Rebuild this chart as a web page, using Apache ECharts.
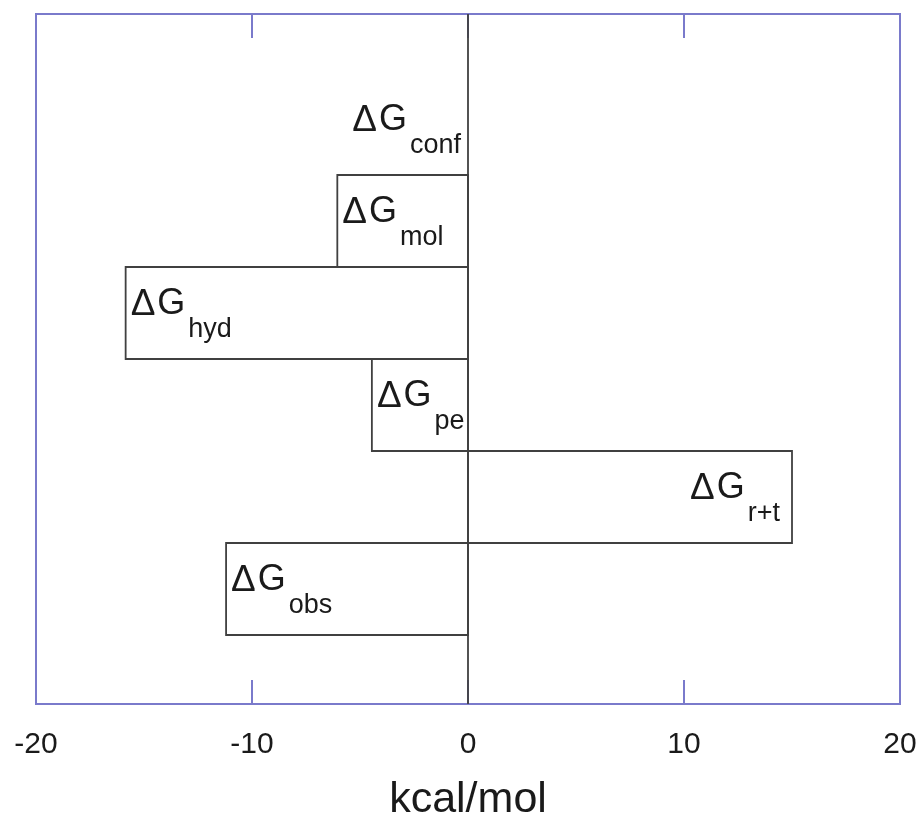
<!DOCTYPE html>
<html>
<head>
<meta charset="utf-8">
<script src="https://cdn.jsdelivr.net/npm/echarts@6/dist/echarts.min.js"></script>
<style>html,body{margin:0;padding:0;background:#fff;}#c{width:919px;height:818px;}</style>
</head>
<body>
<div id="c"></div>
<script>
const categories = ['conf', 'mol', 'hyd', 'pe', 'r+t', 'obs'];
const values = [0, -6.05, -15.85, -4.45, 15.0, -11.2];
const xTicks = [-20, -10, 0, 10, 20];
const xTitle = 'kcal/mol';

const FONT = '"Liberation Sans", Arial, sans-serif';
const BLUE = '#7a7acb';
const INK = '#1a1a1a';
const chart = echarts.init(document.getElementById('c'), null, {renderer: 'canvas'});

function renderItem(params, api) {
  const v = api.value(0), idx = api.value(1);
  const name = categories[params.dataIndex];
  const zero = api.coord([0, idx]);
  const end = api.coord([v, idx]);
  const h = api.size([0, 1])[1];
  const top = zero[1] - h / 2;
  const children = [];
  if (v !== 0) {
    children.push({
      type: 'rect',
      shape: {x: Math.min(zero[0], end[0]), y: top, width: Math.abs(end[0] - zero[0]), height: h},
      style: {fill: '#fff', stroke: '#404040', lineWidth: 1.8}
    });
  }
  let x, align;
  if (v > 0) { x = end[0] - 12; align = 'right'; }
  else if (v < 0) { x = end[0] + 5; align = 'left'; }
  else { x = zero[0] - 7; align = 'right'; }
  children.push({
    type: 'text',
    x: x, y: top + 19.5,
    z2: 10,
    style: {
      text: '{d|Δ}{a|G}{b|' + name + '}',
      align: align, verticalAlign: 'top',
      fill: INK,
      rich: {
        d: {fontSize: 37, lineHeight: 36, fontFamily: FONT, fill: INK, color: INK, verticalAlign: 'top', padding: [0, 2, 0, 0]},
        a: {fontSize: 36, lineHeight: 36, fontFamily: FONT, fill: INK, color: INK, verticalAlign: 'top'},
        b: {fontSize: 27, lineHeight: 27, fontFamily: FONT, fill: INK, color: INK, verticalAlign: 'top', padding: [29.5, 0, 0, 3]}
      }
    }
  });
  return {type: 'group', children: children};
}

const xMin = xTicks[0], xMax = xTicks[xTicks.length - 1], xInt = xTicks[1] - xTicks[0];

chart.setOption({
  animation: false,
  backgroundColor: '#fff',
  grid: {left: 36, right: 19, top: 14, bottom: 114, outerBoundsMode: 'none', containLabel: false,
         show: true, borderColor: BLUE, borderWidth: 2, backgroundColor: 'transparent'},
  xAxis: [{
    type: 'value', position: 'bottom', min: xMin, max: xMax, interval: xInt,
    name: xTitle, nameLocation: 'middle', nameGap: 75,
    nameTextStyle: {fontSize: 43, fontFamily: FONT, color: INK},
    axisLine: {show: true, onZero: false, lineStyle: {color: BLUE, width: 2}},
    axisTick: {show: true, inside: true, length: 24, lineStyle: {color: BLUE, width: 2}},
    axisLabel: {show: true, margin: 26, fontSize: 30, fontFamily: FONT, color: INK},
    splitLine: {show: false}
  }, {
    type: 'value', position: 'top', min: xMin, max: xMax, interval: xInt,
    axisLine: {show: true, onZero: false, lineStyle: {color: BLUE, width: 2}},
    axisTick: {show: true, inside: true, length: 24, lineStyle: {color: BLUE, width: 2}},
    axisLabel: {show: false},
    splitLine: {show: false}
  }],
  yAxis: {
    type: 'value', min: -1.25, max: 6.25, inverse: true, show: false,
    axisLine: {show: false}, axisTick: {show: false}, axisLabel: {show: false}, splitLine: {show: false}
  },
  series: [{
    type: 'custom',
    renderItem: renderItem,
    encode: {x: 0, y: 1},
    clip: false,
    data: categories.map((c, i) => [values[i], i]),
    markLine: {
      silent: true, symbol: 'none', animation: false,
      label: {show: false},
      lineStyle: {color: '#404040', width: 1.8, type: 'solid'},
      data: [{xAxis: 0}]
    }
  }]
});
</script>
</body>
</html>
